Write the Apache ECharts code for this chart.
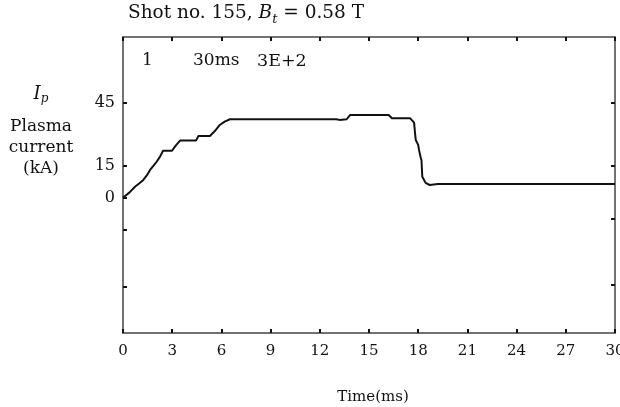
<!DOCTYPE html>
<html>
<head>
<meta charset="utf-8">
<script src="https://cdn.jsdelivr.net/npm/echarts@6/dist/echarts.min.js"></script>
<style>
  html, body { margin: 0; padding: 0; background: #fff; }
  #chart { width: 620px; height: 407px; }
</style>
</head>
<body>
<div id="chart"></div>
<script>
// Plasma current trace, shot 155
const timeMs = [0, 0.4, 0.73, 1.0, 1.24, 1.45, 1.65, 1.85, 2.05, 2.26, 2.44, 2.99, 3.2, 3.48, 4.45, 4.6, 5.3, 5.6, 5.9, 6.2, 6.52, 13.0, 13.2, 13.64, 13.84, 16.2, 16.4, 17.5, 17.75, 17.8, 17.85, 18.0, 18.05, 18.15, 18.2, 18.25, 18.45, 18.7, 19.2, 30];
const currentKA = [0, 2.5, 5.2, 6.8, 8.4, 10.5, 13.1, 15.0, 17.0, 19.4, 22.2, 22.2, 24.5, 27.0, 27.0, 29.2, 29.2, 31.5, 34.4, 36.0, 37.1, 37.1, 36.8, 37.1, 39.1, 39.1, 37.6, 37.6, 35.5, 31.0, 27.3, 25.0, 22.6, 19.0, 17.8, 9.9, 7.0, 6.0, 6.5, 6.5];

const xTickStep = 3;
const yLabelValues = [45, 15, 0];
const leftTickValues = [45, 15, 0, -15, -42];
const rightTickValues = [45, 15, -10, -41];

const FONT = 'DejaVu Serif';
const INK = '#111';

const chart = echarts.init(document.getElementById('chart'), null, { renderer: 'canvas' });

const tickStyle = { show: true, inside: true, length: 4, lineStyle: { color: INK, width: 2 } };
const frameLine = { show: true, onZero: false, lineStyle: { color: '#444', width: 1.5 } };

chart.setOption({
  animation: false,
  backgroundColor: '#fff',
  grid: { left: 123, right: 5, top: 37, bottom: 74, containLabel: false, outerBoundsMode: 'none' },
  xAxis: [
    {
      type: 'value', min: 0, max: 30, interval: xTickStep, position: 'bottom',
      axisLine: frameLine, axisTick: tickStyle, splitLine: { show: false },
      axisLabel: { color: INK, fontFamily: FONT, fontSize: 15, margin: 11 },
      name: 'Time(ms)', nameLocation: 'middle', nameGap: 57,
      nameTextStyle: { color: INK, fontFamily: FONT, fontSize: 15, padding: [0, 0, 0, 8] }
    },
    {
      type: 'value', min: 0, max: 30, interval: xTickStep, position: 'top',
      axisLine: frameLine, axisTick: tickStyle, axisLabel: { show: false }, splitLine: { show: false }
    }
  ],
  yAxis: [
    {
      type: 'value', min: -64, max: 76, position: 'left',
      axisLine: frameLine,
      axisTick: Object.assign({}, tickStyle, { customValues: leftTickValues }),
      axisLabel: { color: INK, fontFamily: FONT, fontSize: 16, margin: 8, customValues: yLabelValues },
      splitLine: { show: false }
    },
    {
      type: 'value', min: -64, max: 76, position: 'right',
      axisLine: frameLine,
      axisTick: Object.assign({}, tickStyle, { customValues: rightTickValues }),
      axisLabel: { show: false }, splitLine: { show: false }
    }
  ],
  series: [{
    type: 'line',
    data: timeMs.map((t, i) => [t, currentKA[i]]),
    showSymbol: false,
    lineStyle: { color: INK, width: 2 },
    xAxisIndex: 0, yAxisIndex: 0
  }],
  graphic: [
    {
      type: 'text', left: 128, top: 4,
      style: {
        text: '{n|Shot no. 155, }{i|B}{s|t}{n| = 0.58 T}',
        fill: INK,
        rich: {
          n: { fontFamily: FONT, fontSize: 18.5, lineHeight: 25, fill: INK },
          i: { fontFamily: FONT, fontSize: 18.5, fontStyle: 'italic', lineHeight: 25, fill: INK },
          s: { fontFamily: FONT, fontSize: 13, fontStyle: 'italic', lineHeight: 12, verticalAlign: 'bottom', fill: INK }
        }
      }
    },
    {
      type: 'text', x: 41, y: 83,
      style: {
        text: '{i|I}{s|p}', align: 'center', fill: INK,
        rich: {
          i: { fontFamily: FONT, fontSize: 18, fontStyle: 'italic', lineHeight: 22, fill: INK },
          s: { fontFamily: FONT, fontSize: 12, fontStyle: 'italic', lineHeight: 10, verticalAlign: 'bottom', fill: INK }
        }
      }
    },
    {
      type: 'text', x: 41, y: 116,
      style: { text: 'Plasma\ncurrent\n(kA)', align: 'center', fill: INK, fontFamily: FONT, fontSize: 17, lineHeight: 21 }
    },
    {
      type: 'text', x: 142, y: 52,
      style: { text: '1', fill: INK, fontFamily: FONT, fontSize: 17 }
    },
    {
      type: 'text', x: 193, y: 52,
      style: { text: '30ms', fill: INK, fontFamily: FONT, fontSize: 17 }
    },
    {
      type: 'text', x: 257, y: 52,
      style: { text: '3E+2', fill: INK, fontFamily: FONT, fontSize: 17.5 }
    }
  ]
});
</script>
</body>
</html>
